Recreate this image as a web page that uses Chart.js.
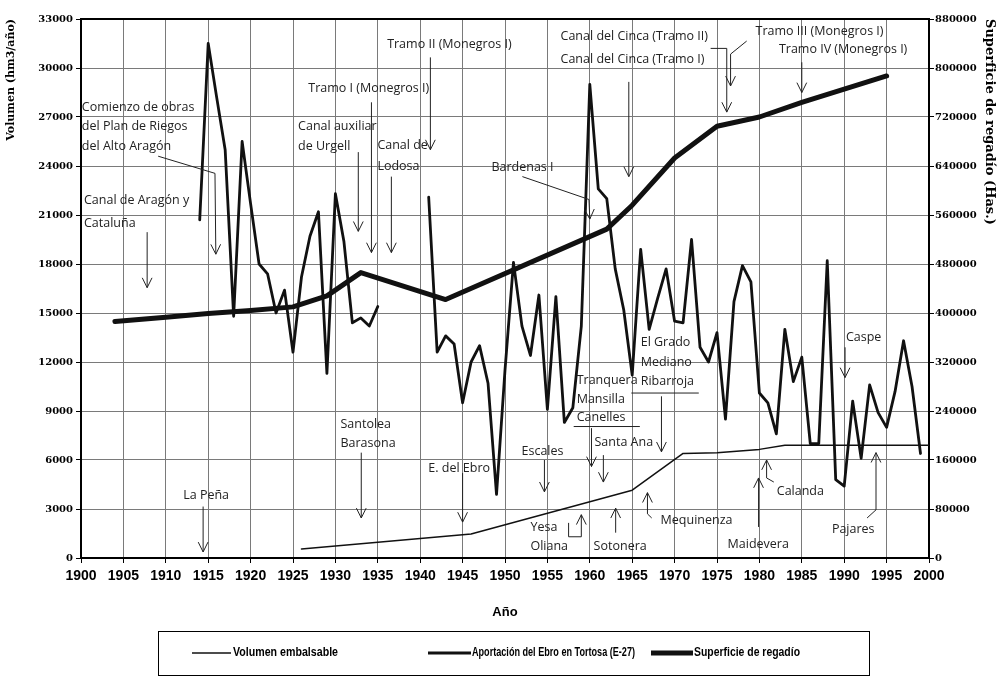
<!DOCTYPE html>
<html lang="es">
<head>
<meta charset="UTF-8">
<title>Volumen embalsable, aportación del Ebro y superficie de regadío</title>
<script src="https://cdn.jsdelivr.net/npm/chart.js"></script>
<style>
    html, body { margin: 0; padding: 0; background: #fff; }
    #grafico { display: block; }
</style>
</head>
<body>
<canvas id="grafico" width="997" height="679"></canvas>
<script>
// Aportación anual del Ebro en Tortosa (hm3/año), null = sin datos (1936-1940)
const aniosAportacion = [
    1914, 1915, 1916, 1917, 1918, 1919, 1920, 1921, 1922, 1923, 1924, 1925, 1926, 1927, 1928, 1929,
    1930, 1931, 1932, 1933, 1934, 1935, 1936, 1937, 1938, 1939, 1940, 1941, 1942, 1943, 1944, 1945,
    1946, 1947, 1948, 1949, 1950, 1951, 1952, 1953, 1954, 1955, 1956, 1957, 1958, 1959, 1960, 1961,
    1962, 1963, 1964, 1965, 1966, 1967, 1968, 1969, 1970, 1971, 1972, 1973, 1974, 1975, 1976, 1977,
    1978, 1979, 1980, 1981, 1982, 1983, 1984, 1985, 1986, 1987, 1988, 1989, 1990, 1991, 1992, 1993,
    1994, 1995, 1996, 1997, 1998, 1999
];
const aportacion = [
    20700, 31500, 28200, 25000, 14800, 25500, 21700, 18000, 17400, 15000, 16400, 12600, 17200, 19700, 21200, 11300,
    22300, 19400, 14400, 14700, 14200, 15400, null, null, null, null, null, 22100, 12600, 13600, 13100, 9500,
    12000, 13000, 10700, 3900, 11500, 18100, 14200, 12400, 16100, 9100, 16000, 8300, 9200, 14200, 29000, 22600,
    22000, 17700, 15200, 11200, 18900, 14000, 15900, 17700, 14500, 14400, 19500, 12900, 12000, 13800, 8500, 15700,
    17900, 16900, 10100, 9500, 7600, 14000, 10800, 12300, 7000, 7000, 18200, 4800, 4400, 9600, 6100, 10600,
    8900, 8000, 10200, 13300, 10500, 6400
];

// Volumen embalsable (hm3)
const aniosVolumen = [1926, 1946, 1965, 1971, 1975, 1980, 1983, 2000];
const volumen = [550, 1470, 4150, 6400, 6450, 6650, 6900, 6900];

// Superficie de regadío (Has.)
const aniosSuperficie = [1904, 1910, 1915, 1920, 1925, 1929, 1933, 1943, 1962, 1965, 1970, 1975, 1980, 1985, 1995];
const superficie = [386000, 393000, 399000, 404000, 410000, 428000, 466000, 422000, 537000, 576000, 653000, 705000, 720000, 744000, 787000];

// textos de las obras: [texto, año, hm3]
const notasTexto = [
    ['Comienzo de obras', 1900.1, 27600],
    ['del Plan de Riegos', 1900.1, 26400],
    ['del Alto Aragón', 1900.1, 25200],
    ['Canal de Aragón y', 1900.35, 21900],
    ['Cataluña', 1900.35, 20500],
    ['Canal auxiliar', 1925.6, 26450],
    ['de Urgell', 1925.6, 25200],
    ['Tramo I (Monegros I)', 1926.8, 28750],
    ['Canal de', 1934.95, 25250],
    ['Lodosa', 1934.95, 24000],
    ['Tramo II (Monegros I)', 1936.1, 31450],
    ['Bardenas I', 1948.4, 23900],
    ['Canal del Cinca (Tramo II)', 1956.55, 31950],
    ['Canal del Cinca (Tramo I)', 1956.55, 30550],
    ['Tramo III (Monegros I)', 1979.55, 32250],
    ['Tramo IV (Monegros I)', 1982.3, 31150],
    ['La Peña', 1912.05, 3850],
    ['Santolea', 1930.6, 8150],
    ['Barasona', 1930.6, 7000],
    ['E. del Ebro', 1940.95, 5500],
    ['Escales', 1951.95, 6550],
    ['Tranquera', 1958.45, 10900],
    ['Mansilla', 1958.45, 9700],
    ['Canelles', 1958.45, 8600],
    ['Santa Ana', 1960.55, 7100],
    ['El Grado', 1966.0, 13200],
    ['Mediano', 1966.0, 11950],
    ['Ribarroja', 1966.0, 10800],
    ['Yesa', 1953.0, 1900],
    ['Oliana', 1953.0, 680],
    ['Sotonera', 1960.45, 680],
    ['Mequinenza', 1968.35, 2270],
    ['Maidevera', 1976.25, 800],
    ['Calanda', 1982.05, 4050],
    ['Caspe', 1990.2, 13500],
    ['Pajares', 1988.55, 1720]
];

// flechas y subrayados: puntos [año, hm3]; punta = dibujar flecha en el último punto
const notasFlechas = [
    { punta: true, puntos: [[1909.1, 24600], [1915.8, 23550], [1915.9, 18600]] },
    { punta: true, puntos: [[1907.8, 19950], [1907.8, 16550]] },
    { punta: true, puntos: [[1932.7, 24850], [1932.7, 20000]] },
    { punta: true, puntos: [[1934.25, 27900], [1934.25, 18700]] },
    { punta: true, puntos: [[1936.6, 23350], [1936.6, 18700]] },
    { punta: true, puntos: [[1941.2, 30650], [1941.2, 25000]] },
    { punta: true, puntos: [[1952.05, 23350], [1959.9, 21950], [1960.0, 20750]] },
    { punta: true, puntos: [[1964.6, 29150], [1964.6, 23350]] },
    { punta: true, puntos: [[1974.25, 31200], [1976.15, 31200], [1976.15, 27300]] },
    { punta: true, puntos: [[1978.5, 31650], [1976.6, 30850], [1976.6, 28900]] },
    { punta: true, puntos: [[1985.0, 30350], [1985.0, 28500]] },
    { punta: true, puntos: [[1914.4, 3150], [1914.4, 370]] },
    { punta: true, puntos: [[1933.05, 6450], [1933.05, 2450]] },
    { punta: true, puntos: [[1945.0, 5200], [1945.0, 2200]] },
    { punta: true, puntos: [[1954.65, 6000], [1954.65, 4050]] },
    { punta: false, puntos: [[1958.1, 8050], [1965.9, 8050]] },
    { punta: true, puntos: [[1960.2, 7950], [1960.2, 5600]] },
    { punta: true, puntos: [[1961.6, 6300], [1961.6, 4650]] },
    { punta: false, puntos: [[1964.9, 10100], [1972.85, 10100]] },
    { punta: true, puntos: [[1968.45, 9900], [1968.45, 6500]] },
    { punta: true, puntos: [[1957.5, 2150], [1957.5, 1300], [1959.0, 1300], [1959.0, 2650]] },
    { punta: true, puntos: [[1963.05, 1550], [1963.05, 3050]] },
    { punta: true, puntos: [[1967.3, 2450], [1966.8, 2700], [1966.8, 4000]] },
    { punta: true, puntos: [[1979.9, 1900], [1979.9, 4900]] },
    { punta: true, puntos: [[1981.7, 4650], [1980.85, 4900], [1980.85, 6000]] },
    { punta: true, puntos: [[1990.1, 12900], [1990.1, 11050]] },
    { punta: true, puntos: [[1992.7, 2450], [1993.75, 2950], [1993.75, 6450]] }
];

const aXY = (xs, ys) => xs.map((x, i) => ({ x: x, y: ys[i] }));

const fuenteNota = "12.5px 'Open Sans', 'DejaVu Sans', sans-serif";
const fuenteEjes = { family: "'DejaVu Serif', serif", size: 10, weight: 'bold' };
const fuenteEstrecha = "'Liberation Sans Narrow', 'Arial Narrow', 'Liberation Sans', sans-serif";

// marco superior del área de trazado
const marco = {
    id: 'marco',
    afterDatasetsDraw(chart) {
        const { ctx, chartArea } = chart;
        ctx.save();
        ctx.strokeStyle = '#000';
        ctx.lineWidth = 2;
        ctx.beginPath();
        ctx.moveTo(chartArea.left - 1, chartArea.top);
        ctx.lineTo(chartArea.right + 1, chartArea.top);
        ctx.stroke();
        ctx.restore();
    }
};

// textos y flechas de las obras
const notas = {
    id: 'notas',
    afterDatasetsDraw(chart) {
        const { ctx } = chart;
        const sx = chart.scales.x, sy = chart.scales.y;
        ctx.save();
        ctx.fillStyle = '#222';
        ctx.font = fuenteNota;
        ctx.textAlign = 'left';
        ctx.textBaseline = 'middle';
        notasTexto.forEach(([t, a, v]) => {
            ctx.fillText(t, sx.getPixelForValue(a), sy.getPixelForValue(v));
        });
        ctx.strokeStyle = '#222';
        ctx.lineWidth = 1;
        notasFlechas.forEach(f => {
            const p = f.puntos.map(([a, v]) => [sx.getPixelForValue(a), sy.getPixelForValue(v)]);
            ctx.beginPath();
            ctx.moveTo(p[0][0], p[0][1]);
            for (let i = 1; i < p.length; i++) ctx.lineTo(p[i][0], p[i][1]);
            ctx.stroke();
            if (f.punta) {
                const [x1, y1] = p[p.length - 2];
                const [x2, y2] = p[p.length - 1];
                const ang = Math.atan2(y2 - y1, x2 - x1);
                const largo = 11, abre = 0.46;
                ctx.beginPath();
                ctx.moveTo(x2 - largo * Math.cos(ang - abre), y2 - largo * Math.sin(ang - abre));
                ctx.lineTo(x2, y2);
                ctx.lineTo(x2 - largo * Math.cos(ang + abre), y2 - largo * Math.sin(ang + abre));
                ctx.stroke();
            }
        });
        ctx.restore();
    }
};

// leyenda en recuadro bajo el eje X
const leyenda = {
    id: 'leyenda',
    afterDraw(chart) {
        const { ctx } = chart;
        const items = [
            { x: 192, largo: 39, texto: 233, ancho: 105 },
            { x: 428, largo: 43, texto: 472, ancho: 163 },
            { x: 651, largo: 42, texto: 694, ancho: 106 }
        ];
        const y = 653;
        ctx.save();
        ctx.strokeStyle = '#000';
        ctx.lineWidth = 1;
        ctx.strokeRect(158.5, 631.5, 711, 44);
        ctx.font = 'bold 12.5px ' + fuenteEstrecha;
        ctx.fillStyle = '#000';
        ctx.textBaseline = 'middle';
        ctx.textAlign = 'left';
        chart.data.datasets.forEach((ds, i) => {
            const it = items[i];
            ctx.lineWidth = ds.borderWidth;
            ctx.strokeStyle = ds.borderColor;
            ctx.beginPath();
            ctx.moveTo(it.x, y);
            ctx.lineTo(it.x + it.largo, y);
            ctx.stroke();
            ctx.fillText(ds.label, it.texto, y, it.ancho);
        });
        ctx.restore();
    }
};

const ctx = document.getElementById('grafico').getContext('2d');
new Chart(ctx, {
    type: 'line',
    data: {
        datasets: [
            {
                label: 'Volumen embalsable',
                data: aXY(aniosVolumen, volumen),
                borderColor: '#111',
                borderWidth: 1.5,
                yAxisID: 'y'
            },
            {
                label: 'Aportación del Ebro en Tortosa (E-27)',
                data: aXY(aniosAportacion, aportacion),
                borderColor: '#111',
                borderWidth: 2.8,
                spanGaps: false,
                yAxisID: 'y'
            },
            {
                label: 'Superficie de regadío',
                data: aXY(aniosSuperficie, superficie),
                borderColor: '#111',
                borderWidth: 5,
                yAxisID: 'y1'
            }
        ]
    },
    options: {
        responsive: false,
        animation: false,
        devicePixelRatio: 1,
        layout: { padding: { top: 19, left: 0, right: 0, bottom: 54 } },
        elements: {
            point: { radius: 0 },
            line: { tension: 0, borderJoinStyle: 'round', borderCapStyle: 'round' }
        },
        plugins: {
            legend: { display: false },
            tooltip: { enabled: false }
        },
        scales: {
            x: {
                type: 'linear',
                min: 1900,
                max: 2000,
                afterFit: s => { s.height = 67; },
                ticks: {
                    stepSize: 5,
                    autoSkip: false,
                    maxRotation: 0,
                    padding: 5,
                    color: '#000',
                    font: { family: fuenteEstrecha, size: 14, weight: 'bold' },
                    callback: v => String(v)
                },
                grid: { color: '#7a7a7a', tickColor: '#000', tickLength: 5 },
                border: { color: '#000', width: 2 },
                title: {
                    display: true,
                    text: 'Año',
                    color: '#000',
                    font: { family: "'Liberation Sans', Arial, sans-serif", size: 13, weight: 'bold' },
                    padding: { top: 0, bottom: 5 }
                }
            },
            y: {
                position: 'left',
                min: 0,
                max: 33000,
                afterFit: s => { s.width = 81; },
                ticks: {
                    stepSize: 3000,
                    padding: 3,
                    color: '#000',
                    font: fuenteEjes,
                    callback: v => String(v)
                },
                grid: { color: '#7a7a7a', tickColor: '#000', tickLength: 5 },
                border: { color: '#000', width: 2 },
                title: {
                    display: true,
                    text: 'Volumen (hm3/año)',
                    align: 'end',
                    color: '#000',
                    font: { family: "'DejaVu Serif', serif", size: 11, weight: 'bold' },
                    padding: { top: 5, bottom: 0 }
                }
            },
            y1: {
                position: 'right',
                min: 0,
                max: 880000,
                afterFit: s => { s.width = 68; },
                ticks: {
                    stepSize: 80000,
                    padding: 1,
                    color: '#000',
                    font: fuenteEjes,
                    callback: v => String(v)
                },
                grid: { drawOnChartArea: false, tickColor: '#000', tickLength: 5 },
                border: { color: '#000', width: 2 },
                title: {
                    display: true,
                    text: 'Superficie de regadío (Has.)',
                    align: 'end',
                    color: '#000',
                    font: { family: "'DejaVu Serif', serif", size: 13, weight: 'bold' },
                    padding: { top: 0, bottom: 0 }
                }
            }
        }
    },
    plugins: [marco, notas, leyenda]
});
</script>
</body>
</html>
